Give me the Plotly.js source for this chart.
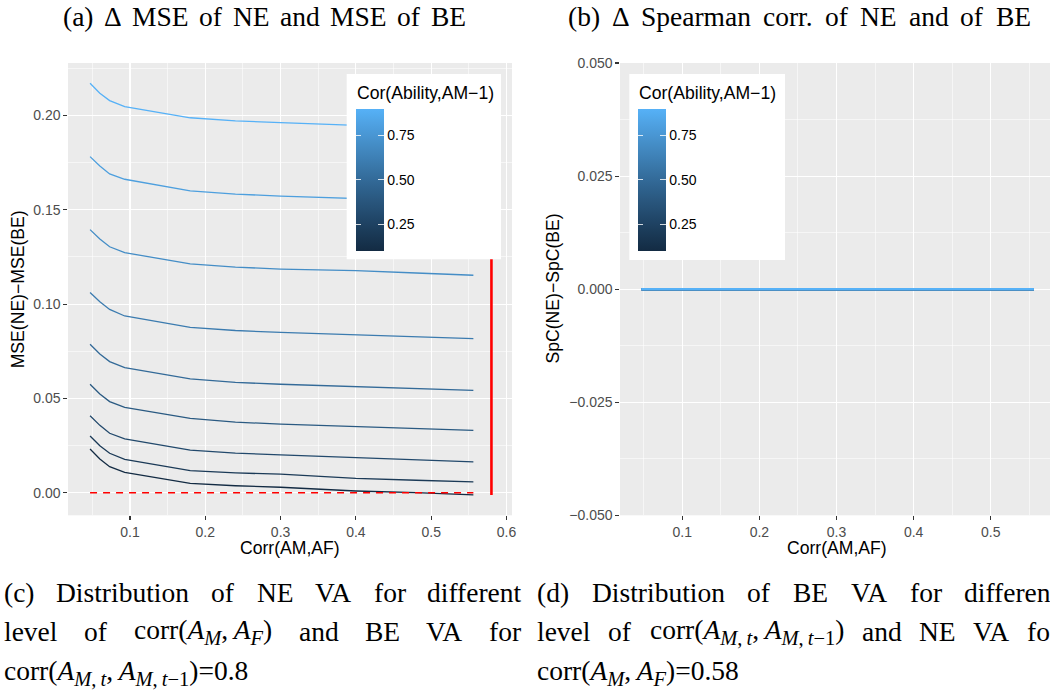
<!DOCTYPE html>
<html><head><meta charset="utf-8">
<script src="https://cdn.plot.ly/plotly-3.0.1.min.js"></script>
<style>html,body{margin:0;padding:0;background:#fff;overflow:hidden}</style>
</head><body><div id="chart" style="width:1050px;height:693px"></div>
<script>
// ---------------- DATA ----------------
const corrAMAF = [0.047, 0.060, 0.073, 0.093, 0.180, 0.240, 0.300, 0.400, 0.480, 0.556];
const abilityLevels = [0.1, 0.2, 0.3, 0.4, 0.5, 0.6, 0.7, 0.8, 0.9];
const dMSE_01 = [0.0232, 0.0179, 0.0138, 0.0108, 0.0050, 0.0037, 0.0029, 0.0009, 0.0000, -0.0012];
const dMSE_02 = [0.0301, 0.0249, 0.0209, 0.0177, 0.0117, 0.0105, 0.0098, 0.0076, 0.0066, 0.0057];
const dMSE_03 = [0.0408, 0.0357, 0.0315, 0.0285, 0.0226, 0.0210, 0.0201, 0.0186, 0.0175, 0.0164];
const dMSE_04 = [0.0575, 0.0523, 0.0483, 0.0453, 0.0394, 0.0374, 0.0364, 0.0350, 0.0340, 0.0331];
const dMSE_05 = [0.0787, 0.0735, 0.0695, 0.0663, 0.0604, 0.0585, 0.0575, 0.0562, 0.0552, 0.0543];
const dMSE_06 = [0.1061, 0.1013, 0.0972, 0.0937, 0.0877, 0.0860, 0.0850, 0.0836, 0.0826, 0.0817];
const dMSE_07 = [0.1395, 0.1345, 0.1304, 0.1273, 0.1213, 0.1196, 0.1186, 0.1177, 0.1165, 0.1153];
const dMSE_08 = [0.1782, 0.1732, 0.1690, 0.1662, 0.1600, 0.1583, 0.1573, 0.1560, 0.1550, 0.1540];
const dMSE_09 = [0.2171, 0.2118, 0.2079, 0.2047, 0.1988, 0.1972, 0.1962, 0.1948, 0.1936, 0.1925];
const dSpC_all = [0, 0, 0, 0, 0, 0, 0, 0, 0, 0];   // identical for every ability level
const zeroRef = 0;          // dashed red reference
const beLagCorr = 0.58;     // solid red vertical reference
const colorTicks = [0.25, 0.5, 0.75];
const colorTickText = ['0.25', '0.50', '0.75'];
const legendTitle = 'Cor(Ability,AM\u22121)';
const titleA = ['(a)', '\u0394', 'MSE', 'of', 'NE', 'and', 'MSE', 'of', 'BE'];
const titleB = ['(b)', '\u0394', 'Spearman', 'corr.', 'of', 'NE', 'and', 'of', 'BE'];
const capC1 = ['(c)', 'Distribution', 'of', 'NE', 'VA', 'for', 'different'];
const capD1 = ['(d)', 'Distribution', 'of', 'BE', 'VA', 'for', 'different'];

// math helpers (text only)
const S='<sub><span style="font-size:20.5px">', E='</span></sub>';
const mathAMAF = 'corr(<i>A</i>'+S+'<i>M</i>'+E+',\u2009<i>A</i>'+S+'<i>F</i>'+E+')';
const mathLag  = 'corr(<i>A</i>'+S+'<i>M</i>,\u2009<i>t</i>'+E+',\u2009<i>A</i>'+S+'<i>M</i>,\u2009<i>t</i>\u22121'+E+')';
const capC2 = ['level', 'of', mathAMAF, 'and', 'BE', 'VA', 'for'];
const capC3 = mathLag + '=0.8';
const capD2 = ['level', 'of', mathLag, 'and', 'NE', 'VA', 'for'];
const capD3 = mathAMAF + '=0.58';

const dMSE = [dMSE_01, dMSE_02, dMSE_03, dMSE_04, dMSE_05, dMSE_06, dMSE_07, dMSE_08, dMSE_09];

// ---------------- COLOUR (ggplot default gradient in Lab) ----------------
function hexToRgb(h){h=h.replace('#','');return [0,2,4].map(i=>parseInt(h.substr(i,2),16)/255);}
function lin(c){return c<=0.04045?c/12.92:Math.pow((c+0.055)/1.055,2.4);}
function unlin(c){return c<=0.0031308?12.92*c:1.055*Math.pow(c,1/2.4)-0.055;}
const WX=0.95047,WY=1,WZ=1.08883;
function f(t){return t>0.008856?Math.cbrt(t):7.787*t+16/116;}
function finv(t){return t*t*t>0.008856?t*t*t:(t-16/116)/7.787;}
function hexToLab(h){const [r,g,b]=hexToRgb(h).map(lin);
  const X=r*0.4124+g*0.3576+b*0.1805,Y=r*0.2126+g*0.7152+b*0.0722,Z=r*0.0193+g*0.1192+b*0.9505;
  const fx=f(X/WX),fy=f(Y/WY),fz=f(Z/WZ);return [116*fy-16,500*(fx-fy),200*(fy-fz)];}
function labToHex(L,a,b){const fy=(L+16)/116,fx=fy+a/500,fz=fy-b/200;
  const X=WX*finv(fx),Y=WY*finv(fy),Z=WZ*finv(fz);
  let r=X*3.2406-Y*1.5372-Z*0.4986,g=-X*0.9689+Y*1.8758+Z*0.0415,bb=X*0.0557-Y*0.2040+Z*1.0570;
  return '#'+[r,g,bb].map(c=>{c=Math.round(Math.min(1,Math.max(0,unlin(c)))*255);return c.toString(16).padStart(2,'0');}).join('');}
const LOW=hexToLab('#132B43'),HIGH=hexToLab('#56B1F7');
const cmin=Math.min(...abilityLevels),cmax=Math.max(...abilityLevels);
function grad(v){const t=(v-cmin)/(cmax-cmin);return labToHex(...[0,1,2].map(i=>LOW[i]+(HIGH[i]-LOW[i])*t));}
const cscale=[];for(let i=0;i<=20;i++){const t=i/20;cscale.push([t,grad(cmin+t*(cmax-cmin))]);}

// ---------------- GEOMETRY ----------------
const W=1050,H=693;
const px=x=>x/W, py=y=>1-y/H;
const SANS='Liberation Sans, Arial, sans-serif';
const SERIF='Liberation Serif, Times New Roman, serif';

const traces=[];
abilityLevels.forEach((lv,i)=>{
  traces.push({x:corrAMAF,y:dMSE[i],mode:'lines',line:{color:grad(lv),width:1.3},xaxis:'x',yaxis:'y',hoverinfo:'skip',showlegend:false});
});
const allVals=[].concat(...dMSE);
traces.push({x:[corrAMAF[0],corrAMAF[corrAMAF.length-1]],y:[zeroRef,zeroRef],mode:'lines',
  line:{color:'#FF0000',width:1.6,dash:'7px,6px'},xaxis:'x',yaxis:'y',hoverinfo:'skip',showlegend:false});
traces.push({x:[beLagCorr,beLagCorr],y:[Math.min(...allVals),Math.max(...allVals)],mode:'lines',
  line:{color:'#FF0000',width:2.6},xaxis:'x',yaxis:'y',hoverinfo:'skip',showlegend:false});
abilityLevels.forEach((lv,i)=>{
  traces.push({x:corrAMAF,y:dSpC_all,mode:'lines',line:{color:grad(lv),width:2.3},xaxis:'x2',yaxis:'y2',hoverinfo:'skip',showlegend:false});
});

const cbFont={family:SANS,size:14,color:'#000'};
function cbTraces(xa,ya,barLeft,barTop,barBot,thick){
  const common={cmin:cmin,cmax:cmax,showscale:true};
  const main={x:abilityLevels.map(()=>corrAMAF[0]),y:abilityLevels.map(()=>0),mode:'markers',xaxis:xa,yaxis:ya,hoverinfo:'skip',showlegend:false,
    marker:Object.assign({size:1,opacity:0,color:abilityLevels,colorscale:cscale,colorbar:{
      x:px(barLeft),xanchor:'left',y:py(barBot),yanchor:'bottom',len:barBot-barTop,lenmode:'pixels',
      thickness:thick,thicknessmode:'pixels',xpad:0,ypad:0,outlinewidth:0,bgcolor:'rgba(0,0,0,0)',
      tickmode:'array',tickvals:colorTicks,ticktext:colorTickText,ticks:'inside',ticklen:5.5,tickwidth:1.1,
      tickcolor:'rgba(255,255,255,0.8)',tickfont:cbFont}},common)};
  const ghost={x:abilityLevels.map(()=>corrAMAF[0]),y:abilityLevels.map(()=>0),mode:'markers',xaxis:xa,yaxis:ya,hoverinfo:'skip',showlegend:false,
    marker:Object.assign({size:1,opacity:0,color:abilityLevels,colorscale:[[0,'rgba(0,0,0,0)'],[1,'rgba(0,0,0,0)']],colorbar:{
      x:px(barLeft-10),xanchor:'left',y:py(barBot),yanchor:'bottom',len:barBot-barTop,lenmode:'pixels',
      thickness:10,thicknessmode:'pixels',xpad:0,ypad:0,outlinewidth:0,bgcolor:'rgba(0,0,0,0)',
      tickmode:'array',tickvals:colorTicks,ticks:'outside',ticklen:5.5,tickwidth:1.1,
      tickcolor:'rgba(255,255,255,0.8)',showticklabels:false}},common)};
  return [main,ghost];
}
traces.push(...cbTraces('x','y',356,109,250.7,28.3));
traces.push(...cbTraces('x2','y2',638.3,109,250.7,28.3));

const tickFont={family:SANS,size:14,color:'#4D4D4D'};
function axis(extra){return Object.assign({showline:false,zeroline:false,ticks:'outside',ticklen:3.7,tickwidth:1.07,tickcolor:'#333333',
  showgrid:true,gridcolor:'#FFFFFF',gridwidth:1.07,tickfont:tickFont,fixedrange:true},extra);}
const yDom=[py(515.3),py(63)];
const layout={
  width:W,height:H,margin:{l:0,r:0,t:0,b:0},paper_bgcolor:'#FFFFFF',plot_bgcolor:'#EBEBEB',showlegend:false,
  xaxis:axis({domain:[px(68),px(512)],range:[0.0177,0.6073],tick0:0,dtick:0.1,anchor:'y',
    minor:{tick0:0,dtick:0.05,showgrid:true,gridcolor:'#FFFFFF',gridwidth:0.55,ticks:''}}),
  yaxis:axis({domain:yDom,range:[-0.01198,0.22784],tick0:0,dtick:0.05,tickformat:'.2f',anchor:'x',
    minor:{tick0:0,dtick:0.025,showgrid:true,gridcolor:'#FFFFFF',gridwidth:0.55,ticks:''}}),
  xaxis2:axis({domain:[px(620),1],range:[0.0192,0.5769],tick0:0,dtick:0.1,anchor:'y2',
    minor:{tick0:0,dtick:0.05,showgrid:true,gridcolor:'#FFFFFF',gridwidth:0.55,ticks:''}}),
  yaxis2:axis({domain:yDom,range:[-0.05,0.05],tick0:0,dtick:0.025,tickformat:'.3f',anchor:'x2',
    minor:{tick0:0,dtick:0.0125,showgrid:true,gridcolor:'#FFFFFF',gridwidth:0.55,ticks:''}}),
  shapes:[
    {type:'rect',xref:'paper',yref:'paper',x0:px(346.7),x1:px(501),y0:py(74),y1:py(259.3),fillcolor:'#FFFFFF',line:{width:0},layer:'above'},
    {type:'rect',xref:'paper',yref:'paper',x0:px(629.3),x1:px(785),y0:py(74),y1:py(260),fillcolor:'#FFFFFF',line:{width:0},layer:'above'}
  ],
  annotations:[]
};
const ann=layout.annotations;
function addAnn(text,x,y,opts){ann.push(Object.assign({text:text,x:px(x),y:py(y),xref:'paper',yref:'paper',showarrow:false,borderpad:0},opts));return ann.length-1;}
// axis titles
const axTitleFont={family:SANS,size:17.6,color:'#000'};
addAnn('Corr(AM,AF)',290,548.3,{xanchor:'center',yanchor:'middle',font:axTitleFont});
addAnn('Corr(AM,AF)',837.3,548.3,{xanchor:'center',yanchor:'middle',font:axTitleFont});
addAnn('MSE(NE)\u2212MSE(BE)',18.3,289,{xanchor:'center',yanchor:'middle',textangle:-90,font:axTitleFont});
addAnn('SpC(NE)\u2212SpC(BE)',552.5,289,{xanchor:'center',yanchor:'middle',textangle:-90,font:axTitleFont});
// legend titles
addAnn(legendTitle,356,92.7,{xanchor:'left',yanchor:'middle',font:axTitleFont});
addAnn(legendTitle,638.3,92.7,{xanchor:'left',yanchor:'middle',font:axTitleFont});

// text lines (justified by measured word widths)
const SERIF_SIZE=27.5;
const serifFont={family:SERIF,size:SERIF_SIZE,color:'#000'};
const blocks=[];
function addBlock(words,x0,x1,y){const idx=words.map(w=>addAnn(w,x0,y,{xanchor:'left',yanchor:'middle',font:serifFont}));blocks.push({idx,x0,x1});}
addBlock(titleA,62,465,17);
addBlock(titleB,567,1030,17);
addBlock(capC1,3,521,592);
addBlock(capC2,3,520,631);
addBlock(capD1,536,1058,592);
addBlock(capD2,536,1058,631);
addAnn(capC3,3,672,{xanchor:'left',yanchor:'middle',font:serifFont});
addAnn(capD3,536,672,{xanchor:'left',yanchor:'middle',font:serifFont});

const gd=document.getElementById('chart');
Plotly.newPlot(gd,traces,layout,{staticPlot:true,displayModeBar:false}).then(()=>{
  const widths={};
  gd.querySelectorAll('g.annotation').forEach(n=>{const i=+n.getAttribute('data-index');const t=n.querySelector('text');if(t)widths[i]=t.getBBox().width;});
  const upd={};
  blocks.forEach(b=>{
    const tot=b.idx.reduce((s,i)=>s+(widths[i]||0),0);
    const gap=(b.x1-b.x0-tot)/(b.idx.length-1);
    let x=b.x0;
    b.idx.forEach(i=>{upd['annotations['+i+'].x']=px(x);x+=(widths[i]||0)+gap;});
  });
  return Plotly.relayout(gd,upd);
});
</script></body></html>
